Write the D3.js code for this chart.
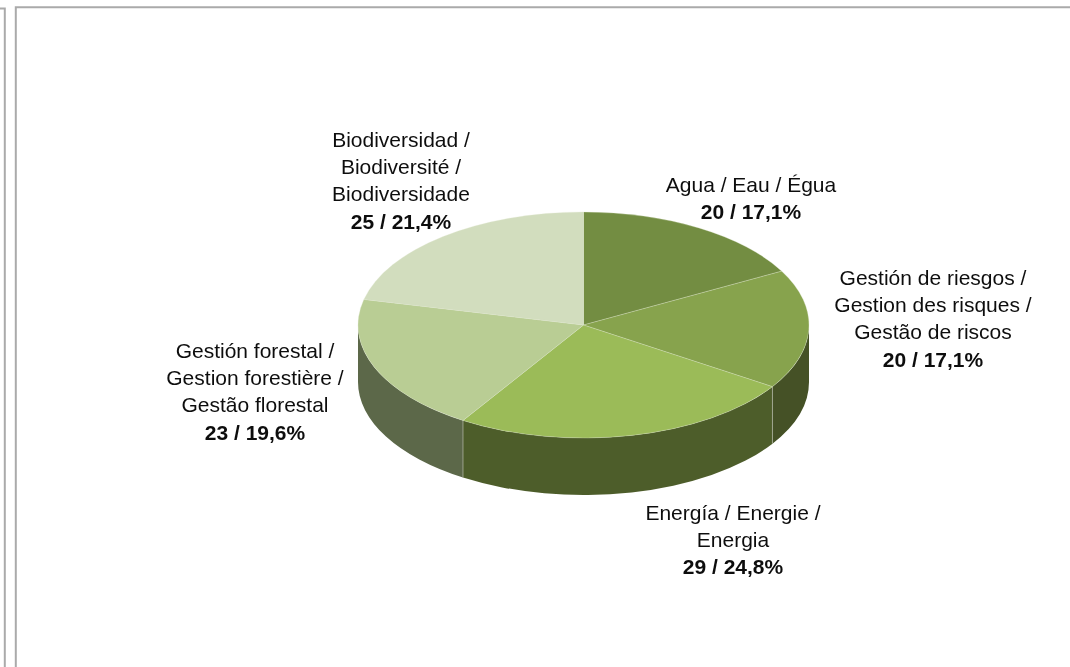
<!DOCTYPE html>
<html>
<head>
<meta charset="utf-8">
<script src="https://cdn.jsdelivr.net/npm/d3@7"></script>
<style>
  html, body { margin: 0; padding: 0; background: #fff; overflow: hidden; }
  svg { display: block; }
  .slice-label { font-family: "Liberation Sans", Arial, sans-serif; font-size: 21px; fill: #111; }
  .slice-value { font-weight: bold; }
</style>
</head>
<body>
<svg id="chart"></svg>
<script>
const categories = [
  ['Agua / Eau / Égua'],
  ['Gestión de riesgos /', 'Gestion des risques /', 'Gestão de riscos'],
  ['Energía / Energie /', 'Energia'],
  ['Gestión forestal /', 'Gestion forestière /', 'Gestão florestal'],
  ['Biodiversidad /', 'Biodiversité /', 'Biodiversidade'],
];
const values = [20, 20, 29, 23, 25];
const valueLabels = ['20 / 17,1%', '20 / 17,1%', '29 / 24,8%', '23 / 19,6%', '25 / 21,4%'];
const topColors = ['#738d42', '#87a34e', '#9bbb59', '#b9cd94', '#d2ddbe'];
const sideColors = ['#45522a', '#445125', '#4e5d2b', '#5c6849', '#6f7a5e'];

const config = {
  width: 1070,
  height: 667,
  cx: 583.5,
  cy: 325,
  rx: 225.5,
  ry: 113,
  depth: 57,
  lineHeight: 27.2,
};
// centre x and first baseline of each label block
const labelAnchors = [[751, 192], [933, 285], [733, 520], [255, 358], [401, 147]];

const svg = d3.select('#chart')
  .attr('width', config.width)
  .attr('height', config.height);

// panel frames behind the chart
const frames = svg.append('g')
  .attr('stroke', '#aaaaaa')
  .attr('stroke-width', 2)
  .attr('fill', 'none');
frames.append('path').attr('d', `M0,8.5H4.8V${config.height}`);
frames.append('path').attr('d', `M15.8,${config.height}V7.2H${config.width}`);

const slices = d3.pie().sort(null).value((d) => d)(values);

const soft = svg.append('defs').append('filter').attr('id', 'soft');
soft.append('feGaussianBlur').attr('stdDeviation', 0.45);

const pieG = svg.append('g')
  .attr('filter', 'url(#soft)')
  .attr('transform', `translate(${config.cx},${config.cy})`);

// d3 angle (clockwise from 12 o'clock) to a point on the flattened rim
const rimX = (a) => config.rx * Math.sin(a);
const rimY = (a) => -config.ry * Math.cos(a);

// wall only exists on the front half of the rim
const wallPath = (d) => {
  const a0 = Math.max(d.startAngle, Math.PI / 2);
  const a1 = Math.min(d.endAngle, Math.PI * 1.5);
  if (a1 <= a0) return null;
  const { rx, ry, depth } = config;
  return `M${rimX(a0)},${rimY(a0)}`
    + `A${rx},${ry} 0 0 1 ${rimX(a1)},${rimY(a1)}`
    + `V${rimY(a1) + depth}`
    + `A${rx},${ry} 0 0 0 ${rimX(a0)},${rimY(a0) + depth}Z`;
};

pieG.append('g')
  .selectAll('path')
  .data(slices)
  .join('path')
  .attr('d', wallPath)
  .attr('fill', (d, i) => sideColors[i]);

// pale seams where two walls meet
pieG.append('g')
  .selectAll('line')
  .data(slices.filter((d) => d.startAngle > Math.PI / 2 && d.startAngle < Math.PI * 1.5))
  .join('line')
  .attr('x1', (d) => rimX(d.startAngle))
  .attr('x2', (d) => rimX(d.startAngle))
  .attr('y1', (d) => rimY(d.startAngle))
  .attr('y2', (d) => rimY(d.startAngle) + config.depth)
  .attr('stroke', '#a9ae9c')
  .attr('stroke-width', 0.8);

const arc = d3.arc().innerRadius(0).outerRadius(config.rx);

pieG.append('g')
  .attr('transform', `scale(1,${config.ry / config.rx})`)
  .selectAll('path')
  .data(slices)
  .join('path')
  .attr('d', arc)
  .attr('fill', (d, i) => topColors[i])
  .attr('stroke', '#dfe6d0')
  .attr('stroke-width', 0.3)
  .attr('vector-effect', 'non-scaling-stroke');

const softText = svg.select('defs').append('filter').attr('id', 'soft-text');
softText.append('feGaussianBlur').attr('stdDeviation', 0.25);

const labels = svg.append('g')
  .attr('filter', 'url(#soft-text)')
  .selectAll('text')
  .data(categories)
  .join('text')
  .attr('class', 'slice-label')
  .attr('text-anchor', 'middle')
  .attr('x', (d, i) => labelAnchors[i][0])
  .attr('y', (d, i) => labelAnchors[i][1]);

labels.each(function (lines, i) {
  const text = d3.select(this);
  lines.forEach((line, j) => {
    text.append('tspan')
      .attr('x', labelAnchors[i][0])
      .attr('dy', j === 0 ? 0 : config.lineHeight)
      .text(line);
  });
  text.append('tspan')
    .attr('class', 'slice-value')
    .attr('x', labelAnchors[i][0])
    .attr('dy', config.lineHeight)
    .text(valueLabels[i]);
});
</script>
</body>
</html>
